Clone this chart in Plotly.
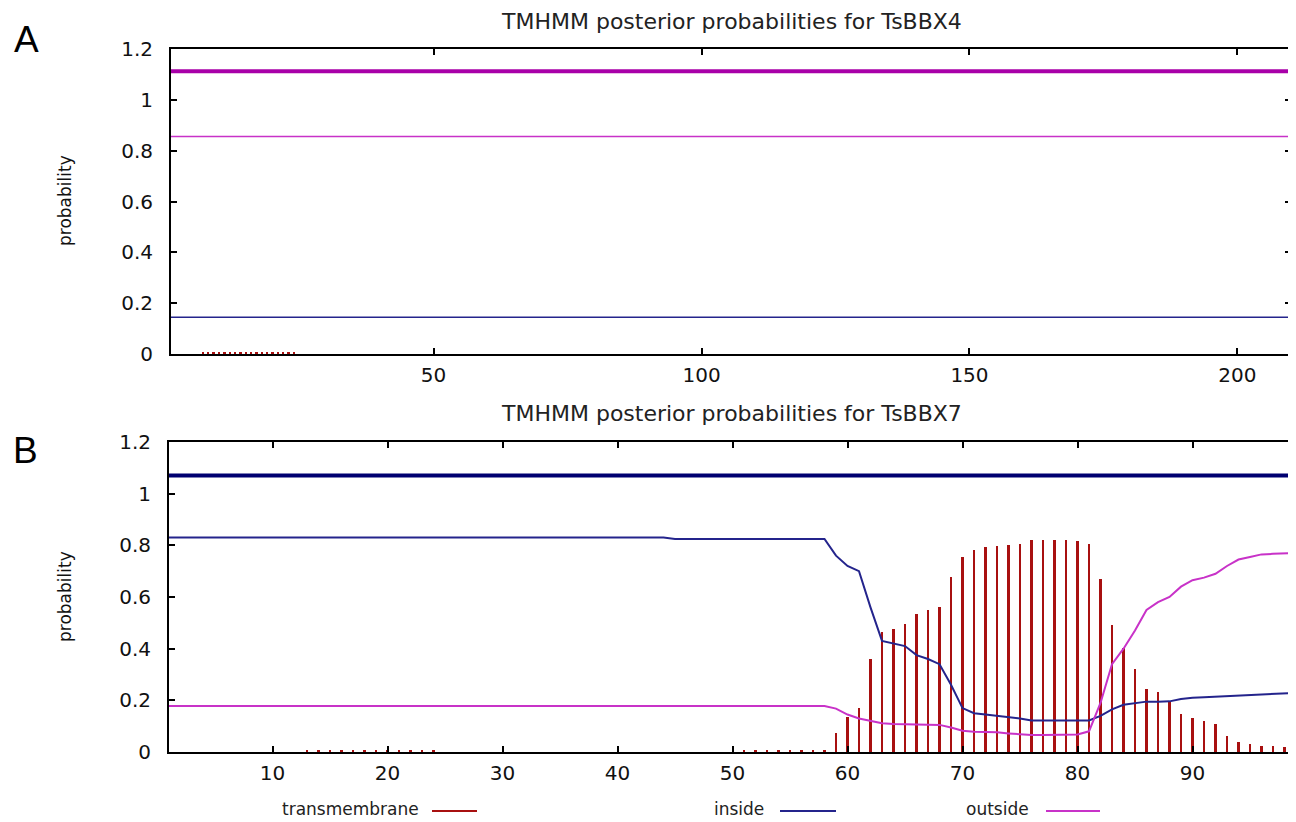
import plotly.graph_objects as go

# ---------------- data ----------------
# Panel A: TsBBX4 (210 residues)
A_len = 210
A_pos = list(range(1, A_len + 1))
A_inside = [0.145] * A_len
A_outside = [0.856] * A_len
A_tm = [0.0] * 6 + [0.004] * 18 + [0.0] * (A_len - 24)
A_pred_outside = [1.112] * A_len

# Panel B: TsBBX7 (99 residues)
B_len = 99
B_pos = list(range(1, B_len + 1))
B_inside = ([0.830] * 44 + [0.825] * 14 +
            [0.76, 0.72, 0.70, 0.56, 0.43, 0.42, 0.41, 0.375, 0.36, 0.34,
             0.26, 0.17, 0.15, 0.145, 0.14, 0.135, 0.13, 0.122, 0.122, 0.122,
             0.122, 0.122, 0.122, 0.14, 0.165, 0.183, 0.19, 0.195, 0.195, 0.196,
             0.205, 0.21, 0.212, 0.214, 0.216, 0.218, 0.22, 0.222, 0.225, 0.228,
             0.229])
B_outside = ([0.178] * 58 +
             [0.168, 0.145, 0.13, 0.12, 0.111, 0.108, 0.107, 0.107, 0.107, 0.105,
              0.095, 0.082, 0.078, 0.077, 0.076, 0.072, 0.068, 0.066, 0.066, 0.066,
              0.066, 0.068, 0.08, 0.19, 0.34, 0.40, 0.47, 0.55, 0.58, 0.60,
              0.64, 0.665, 0.675, 0.69, 0.72, 0.745, 0.755, 0.765, 0.767, 0.77,
              0.771])
B_tm = ([0.0] * 12 + [0.004] * 12 + [0.0] * 26 + [0.004] * 8 +
        [0.075, 0.137, 0.172, 0.36, 0.466, 0.477, 0.496, 0.535, 0.55, 0.563,
         0.677, 0.753, 0.783, 0.793, 0.798, 0.802, 0.806, 0.819, 0.822, 0.822,
         0.822, 0.817, 0.806, 0.67, 0.49, 0.404, 0.32, 0.243, 0.234, 0.195,
         0.146, 0.13, 0.121, 0.109, 0.062, 0.04, 0.03, 0.025, 0.023, 0.021,
         0.02])
B_pred_inside = [1.07] * B_len

A_xticks = [50, 100, 150, 200]
B_xticks = [10, 20, 30, 40, 50, 60, 70, 80, 90]
y_ticks = [0, 0.2, 0.4, 0.6, 0.8, 1.0, 1.2]

titles = ["TMHMM posterior probabilities for TsBBX4",
          "TMHMM posterior probabilities for TsBBX7"]
legend_labels = ["transmembrane", "inside", "outside"]

# ---------------- styles ----------------
RED = "#a81010"
BLUE = "#24248c"
NAVY = "#000070"
MAG = "#c832c8"
MAG_DARK = "#a800a8"
W, H = 1296, 822
FONT = "DejaVu Sans"
OFF = 8  # page body margin in the browser


def px(x):
    return (x - OFF) / W


def py(y):
    return 1 - (y - OFF) / H


fig = go.Figure()

# Panel A
fig.add_trace(go.Bar(x=A_pos, y=A_tm, width=0.35, marker=dict(color=RED, line_width=0),
                     xaxis="x", yaxis="y", showlegend=False))
fig.add_trace(go.Scatter(x=A_pos, y=A_inside, mode="lines", line=dict(color=BLUE, width=1.5),
                         xaxis="x", yaxis="y", showlegend=False))
fig.add_trace(go.Scatter(x=A_pos, y=A_outside, mode="lines", line=dict(color=MAG, width=1.5),
                         xaxis="x", yaxis="y", showlegend=False))
fig.add_trace(go.Scatter(x=A_pos, y=A_pred_outside, mode="lines", line=dict(color=MAG_DARK, width=4),
                         xaxis="x", yaxis="y", showlegend=False))

# Panel B
fig.add_trace(go.Bar(x=B_pos, y=B_tm, width=0.24, marker=dict(color=RED, line_width=0),
                     xaxis="x2", yaxis="y2", showlegend=False))
fig.add_trace(go.Scatter(x=B_pos, y=B_inside, mode="lines", line=dict(color=BLUE, width=2),
                         xaxis="x2", yaxis="y2", showlegend=False))
fig.add_trace(go.Scatter(x=B_pos, y=B_outside, mode="lines", line=dict(color=MAG, width=2),
                         xaxis="x2", yaxis="y2", showlegend=False))
fig.add_trace(go.Scatter(x=B_pos, y=B_pred_inside, mode="lines", line=dict(color=NAVY, width=4),
                         xaxis="x2", yaxis="y2", showlegend=False))

tickfont = dict(family=FONT, size=20, color="#111")
common_axis = dict(showline=True, linecolor="black", linewidth=2, mirror="ticks",
                   ticks="inside", ticklen=6, tickwidth=2, tickcolor="black",
                   showgrid=False, zeroline=False, tickfont=tickfont, automargin=False)

fig.update_layout(
    width=W, height=H,
    margin=dict(l=0, r=0, t=0, b=0, autoexpand=False),
    paper_bgcolor="white", plot_bgcolor="white",
    bargap=0, barmode="overlay",
    xaxis=dict(domain=[px(171), px(1291)], range=[1, A_len], anchor="y",
               tickvals=A_xticks, ticklabelstandoff=2, **common_axis),
    yaxis=dict(domain=[py(354), py(49)], range=[0, 1.2], anchor="x",
               tickvals=y_ticks, ticklabelstandoff=12, **common_axis),
    xaxis2=dict(domain=[px(169), px(1296)], range=[1, B_len], anchor="y2",
                tickvals=B_xticks, ticklabelstandoff=2, **common_axis),
    yaxis2=dict(domain=[py(752), py(442)], range=[0, 1.2], anchor="x2",
                tickvals=y_ticks, ticklabelstandoff=12, **common_axis),
)


def note(text, x, y, size, family=FONT, color="#222", angle=0, xanchor="center"):
    return dict(text=text, x=px(x), y=py(y), xref="paper", yref="paper",
                xanchor=xanchor, yanchor="middle", textangle=angle, showarrow=False,
                font=dict(family=family, size=size, color=color))


ann = [
    note(titles[0], 731, 22, 22),
    note(titles[1], 731, 413, 22),
    note("A", 26, 40, 37, family="Liberation Sans", color="black"),
    note("B", 25, 450, 37, family="Liberation Sans", color="black"),
]
for yc in (201, 597):
    ann.append(note("probability", 65, yc, 17, color="#111", angle=-90))
leg_text_right = [421, 766, 1031]
for lbl, xr in zip(legend_labels, leg_text_right):
    ann.append(note(lbl, xr, 809, 17, xanchor="right"))
fig.update_layout(annotations=ann)

# legend line samples
leg_lines = [(432, 477, RED), (780, 836, BLUE), (1046, 1100, MAG)]
for x0, x1, c in leg_lines:
    fig.add_shape(type="line", xref="paper", yref="paper",
                  x0=px(x0), x1=px(x1), y0=py(811), y1=py(811),
                  line=dict(color=c, width=2))

fig.write_html("out.html")
